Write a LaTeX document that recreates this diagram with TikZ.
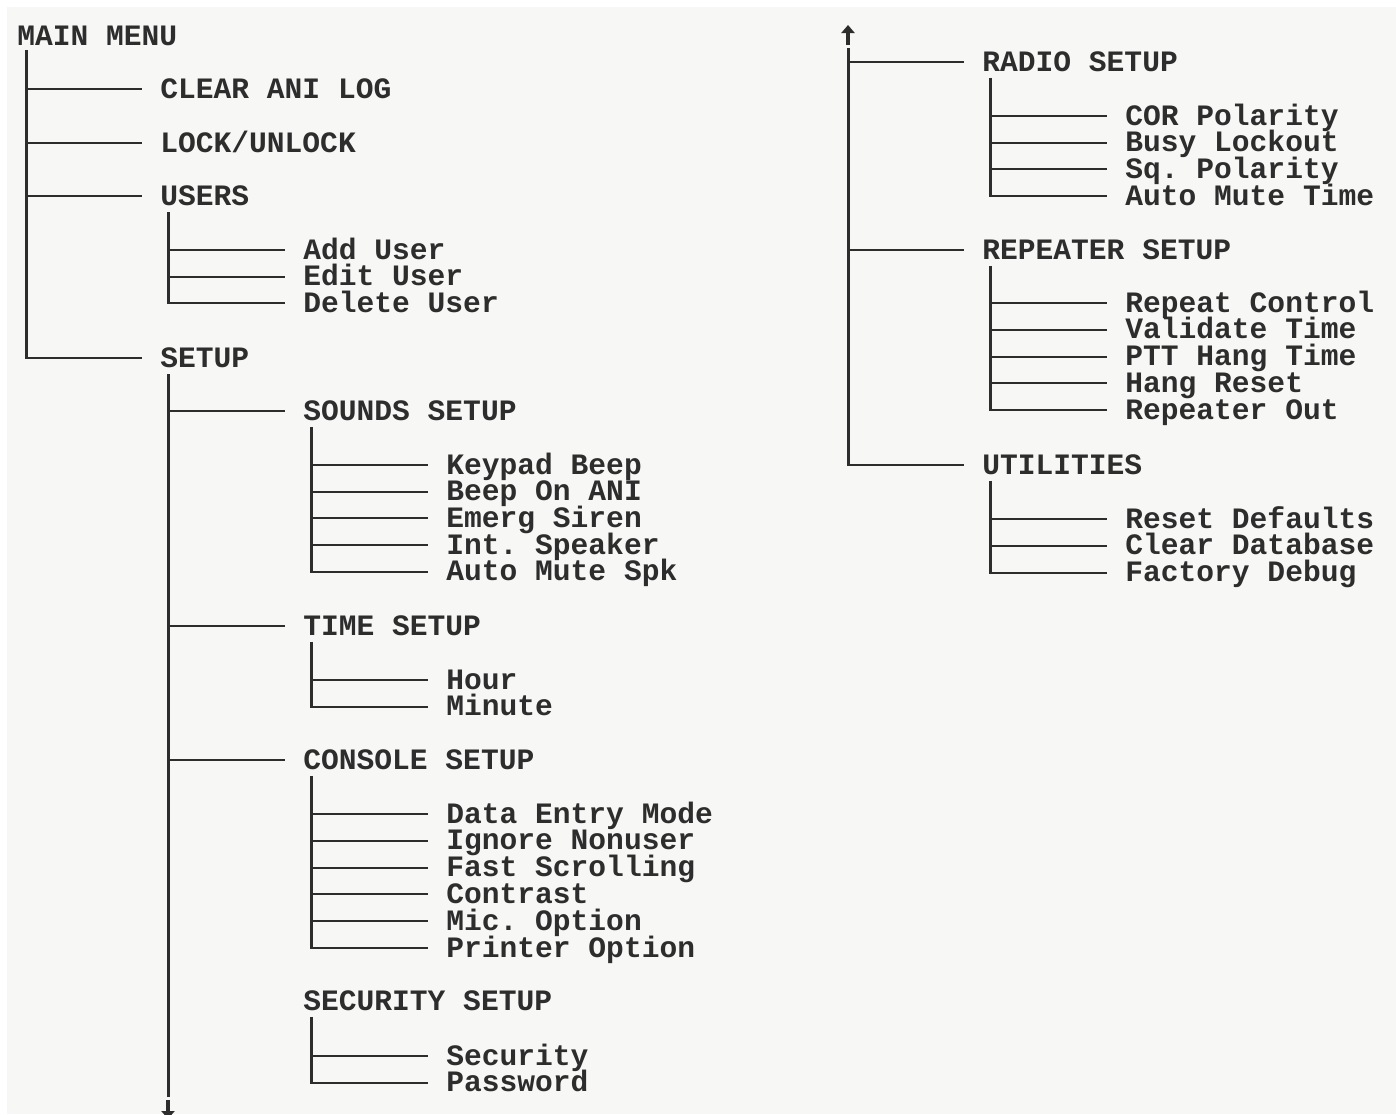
\documentclass[tikz,border=0pt]{standalone}
\usepackage{fontspec}
\setmonofont{Liberation Mono}
\usetikzlibrary{calc,arrows.meta}

\definecolor{ink}{RGB}{45,45,45}
\definecolor{paper}{RGB}{247,247,245}

\begin{document}
\begin{tikzpicture}[x=0.5pt, y=-0.5pt,
  item/.style={anchor=west, inner sep=0pt, text height=9pt, text depth=0pt,
    font=\ttfamily\bfseries\fontsize{14.8}{16}\selectfont, text=ink},
  trunk/.style={draw=ink, line width=1.5pt},
  twig/.style={draw=ink, line width=1pt},
  tip/.style={draw=ink, line width=2pt, -{Triangle[width=6.5pt,length=4pt]}}]
\useasboundingbox (0,0) rectangle (1396,1114);
\fill[white] (0,0) rectangle (1396,1114);
\fill[paper] (7,7) rectangle (1396,1114);

% left column
\node[item] (main) at (17,36) {MAIN MENU};
\node[item] (clear) at (160,89) {CLEAR ANI LOG};
\node[item] (lock) at (160,143) {LOCK/UNLOCK};
\node[item] (users) at (160,196) {USERS};
\node[item] (setup) at (160,358) {SETUP};
\node[item] (sounds) at (303,411) {SOUNDS SETUP};
\node[item] (time) at (303,626) {TIME SETUP};
\node[item] (console) at (303,760) {CONSOLE SETUP};
\node[item] (security) at (303,1001) {SECURITY SETUP};
% right column
\node[item] (radio) at (982,62) {RADIO SETUP};
\node[item] (repeater) at (982,250) {REPEATER SETUP};
\node[item] (utilities) at (982,465) {UTILITIES};

% leaves
\foreach \txt [count=\i] in {Add User,Edit User,Delete User}
  \node[item] (u\i) at (303,{250+26.7*(\i-1)}) {\txt};
\foreach \txt [count=\i] in {Keypad Beep,Beep On ANI,Emerg Siren,Int. Speaker,Auto Mute Spk}
  \node[item] (s\i) at (446,{465+26.7*(\i-1)}) {\txt};
\foreach \txt [count=\i] in {Hour,Minute}
  \node[item] (t\i) at (446,{680+26.8*(\i-1)}) {\txt};
\foreach \txt [count=\i] in {Data Entry Mode,Ignore Nonuser,Fast Scrolling,Contrast,Mic. Option,Printer Option}
  \node[item] (c\i) at (446,{814+26.8*(\i-1)}) {\txt};
\foreach \txt [count=\i] in {Security,Password}
  \node[item] (k\i) at (446,{1056+26.8*(\i-1)}) {\txt};
\foreach \txt [count=\i] in {COR Polarity,Busy Lockout,Sq. Polarity,Auto Mute Time}
  \node[item] (r\i) at (1125,{116+26.7*(\i-1)}) {\txt};
\foreach \txt [count=\i] in {Repeat Control,Validate Time,PTT Hang Time,Hang Reset,Repeater Out}
  \node[item] (p\i) at (1125,{303+26.8*(\i-1)}) {\txt};
\foreach \txt [count=\i] in {Reset Defaults,Clear Database,Factory Debug}
  \node[item] (x\i) at (1125,{519+26.8*(\i-1)}) {\txt};

% main menu trunk
\coordinate (mainroot) at ($(main.south west)+(9,5)$);
\foreach \nm in {clear,lock,users,setup}
  \draw[twig] (mainroot |- \nm.west) -- ($(\nm.west)+(-18,0)$);
\draw[trunk] (mainroot) -- ($(mainroot |- setup.west)+(0,1)$);

% setup trunk, carried on past the page
\coordinate (setuproot) at ($(setup.south west)+(8,7)$);
\coordinate (setupend) at (setuproot |- 0,1097);
\foreach \nm in {sounds,time,console}
  \draw[twig] (setuproot |- \nm.west) -- ($(\nm.west)+(-18,0)$);
\draw[trunk] (setuproot) -- (setupend);
\draw[tip] ($(setupend)+(0,3)$) -- ++(0,19);

% right trunk, carried on from the left
\coordinate (controot) at (848,48);
\draw[tip] ($(controot)+(0,-3)$) -- ++(0,-20);
\foreach \nm in {radio,repeater,utilities}
  \draw[twig] (controot |- \nm.west) -- ($(\nm.west)+(-18,0)$);
\draw[trunk] (controot) -- ($(controot |- utilities.west)+(0,1)$);

% sub menus
\foreach \up/\pre/\n in {users/u/3,sounds/s/5,time/t/2,console/c/6,security/k/2,
    radio/r/4,repeater/p/5,utilities/x/3} {
  \coordinate (subroot) at ($(\up.south west)+(8.5,6.5)$);
  \foreach \i in {1,...,\n}
    \draw[twig] (subroot |- \pre\i.west) -- ($(\pre\i.west)+(-18,0)$);
  \draw[trunk] (subroot) -- ($(subroot |- \pre\n.west)+(0,1)$);
}
\end{tikzpicture}
\end{document}
